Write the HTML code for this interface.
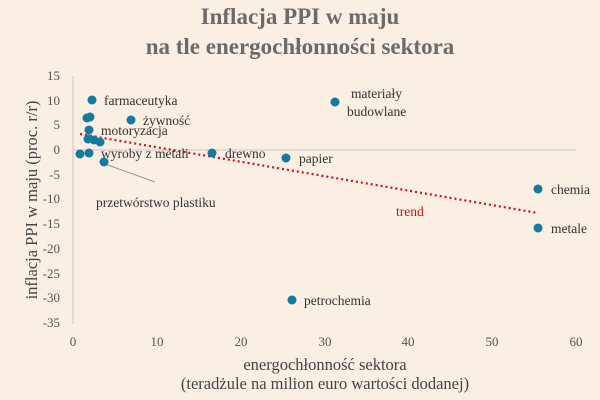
<!DOCTYPE html>
<html><head><meta charset="utf-8"><style>
body{margin:0;background:#fbeee2;}
svg{display:block;font-family:"Liberation Serif",serif;}
</style></head><body>
<svg width="600" height="400" viewBox="0 0 600 400">
<rect width="600" height="400" fill="#fbeee2"/>
<text x="300" y="24" text-anchor="middle" font-size="23" font-weight="bold" fill="#6b6b6b">Inflacja PPI w maju</text>
<text x="300" y="54" text-anchor="middle" font-size="23" font-weight="bold" fill="#6b6b6b">na tle energochłonności sektora</text>
<g font-size="13" fill="#555" text-anchor="end">
<text x="60" y="80">15</text><text x="60" y="105">10</text><text x="60" y="129">5</text><text x="60" y="154">0</text>
<text x="60" y="179">-5</text><text x="60" y="203">-10</text><text x="60" y="228">-15</text><text x="60" y="253">-20</text>
<text x="60" y="278">-25</text><text x="60" y="302">-30</text><text x="60" y="327">-35</text>
</g>
<g font-size="13" fill="#555" text-anchor="middle">
<text x="73" y="346">0</text><text x="157" y="346">10</text><text x="241" y="346">20</text><text x="325" y="346">30</text>
<text x="408" y="346">40</text><text x="492" y="346">50</text><text x="576" y="346">60</text>
</g>
<line x1="73" y1="76" x2="73" y2="324" stroke="#c8c8c8" stroke-width="1"/>
<line x1="73" y1="150" x2="576" y2="150" stroke="#c8c8c8" stroke-width="1"/>
<text transform="translate(37,200) rotate(-90)" text-anchor="middle" font-size="16.5" fill="#444">inflacja PPI w maju (proc. r/r)</text>
<text x="325" y="370" text-anchor="middle" font-size="16.5" fill="#444">energochłonność sektora</text>
<text x="325" y="389" text-anchor="middle" font-size="16.5" fill="#444">(teradżule na milion euro wartości dodanej)</text>
<line x1="105" y1="164" x2="155" y2="182" stroke="#999" stroke-width="1"/>
<line x1="80" y1="134" x2="538" y2="213" stroke="#c8141e" stroke-width="2.2" stroke-dasharray="2,3"/>
<g fill="#137aa0">
<circle cx="92" cy="100" r="4.5"/><circle cx="87" cy="118" r="4.5"/><circle cx="90" cy="117" r="4.5"/>
<circle cx="131" cy="120" r="4.5"/><circle cx="89" cy="130" r="4.5"/><circle cx="88" cy="139" r="4.5"/>
<circle cx="94" cy="140" r="4.5"/><circle cx="100" cy="142" r="4.5"/><circle cx="80" cy="154" r="4.5"/>
<circle cx="89" cy="153" r="4.5"/><circle cx="104" cy="162" r="4.5"/><circle cx="212" cy="153" r="4.5"/>
<circle cx="286" cy="158" r="4.5"/><circle cx="335" cy="102" r="4.5"/><circle cx="538" cy="189" r="4.5"/>
<circle cx="538" cy="228" r="4.5"/><circle cx="292" cy="300" r="4.5"/>
</g>
<g font-size="13.5" fill="#333">
<text x="104" y="105">farmaceutyka</text>
<text x="143" y="125">żywność</text>
<text x="101" y="135">motoryzacja</text>
<text x="101" y="158">wyroby z metali</text>
<text x="96" y="207">przetwórstwo plastiku</text>
<text x="225" y="158">drewno</text>
<text x="299" y="163">papier</text>
<text x="351" y="98">materiały</text>
<text x="347" y="116">budowlane</text>
<text x="551" y="194">chemia</text>
<text x="551" y="233">metale</text>
<text x="304" y="305">petrochemia</text>
<text x="396" y="216" fill="#c8141e">trend</text>
</g>
</svg>
</body></html>
